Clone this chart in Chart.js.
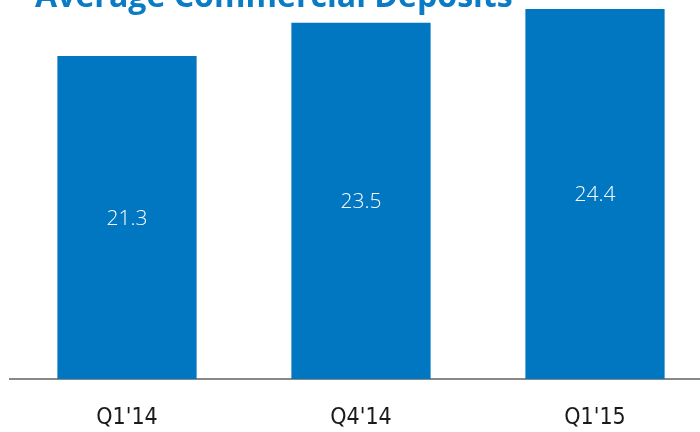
<!DOCTYPE html>
<html><head><meta charset="utf-8">
<script src="https://cdn.jsdelivr.net/npm/chart.js@4"></script>
<style>
html,body{margin:0;padding:0;overflow:hidden;background:#fff;width:700px;height:432px}
#wrap{position:absolute;left:0;top:0;width:712px;height:432px}
</style></head><body>
<div id="wrap"><canvas id="c"></canvas></div>
<script>
const titleText = "Average Commercial Deposits";
const categories = ["Q1'14", "Q4'14", "Q1'15"];
const values = [21.3, 23.5, 24.4];
const valueLabels = ["21.3", "23.5", "24.4"];

const blue = '#0077c0';

const titlePlugin = {
  id: 'titleDraw',
  afterDraw(chart) {
    const ctx = chart.ctx;
    ctx.save();
    let size = 30;
    ctx.font = `bold ${size}px "Open Sans", sans-serif`;
    const w = ctx.measureText(titleText).width;
    size = size * 478 / w;
    ctx.font = `bold ${size}px "Open Sans", sans-serif`;
    ctx.fillStyle = '#0a7cc6';
    ctx.textBaseline = 'alphabetic';
    ctx.textAlign = 'left';
    ctx.fillText(titleText, 35, 7);
    ctx.restore();
  }
};

const valuePlugin = {
  id: 'valueLabels',
  afterDatasetsDraw(chart) {
    const ctx = chart.ctx;
    const meta = chart.getDatasetMeta(0);
    ctx.save();
    ctx.font = '300 21px "Open Sans", sans-serif';
    ctx.fillStyle = '#ffffff';
    ctx.textAlign = 'center';
    ctx.textBaseline = 'middle';
    meta.data.forEach((bar, i) => {
      const y = (bar.y + bar.base) / 2 + 1;
      ctx.fillText(valueLabels[i], bar.x, y);
    });
    ctx.restore();
  }
};

new Chart(document.getElementById('c'), {
  type: 'bar',
  data: {
    labels: categories,
    datasets: [{
      data: values,
      backgroundColor: blue,
      borderWidth: 0,
      categoryPercentage: 1,
      barPercentage: 0.595
    }]
  },
  options: {
    responsive: true,
    maintainAspectRatio: false,
    animation: false,
    devicePixelRatio: 1,
    layout: { padding: { left: 10, right: 0, top: 0, bottom: 0 } },
    plugins: { legend: { display: false }, tooltip: { enabled: false }, title: { display: false } },
    scales: {
      y: { display: false, min: 0, max: 25 },
      x: {
        grid: { display: false, drawTicks: false },
        border: { display: true, color: '#888888', width: 2 },
        ticks: {
          color: '#1a1a1a',
          padding: 25,
          font: { family: '"DejaVu Sans Condensed", "Liberation Sans Narrow", "Open Sans", sans-serif', size: 23 }
        },
        afterFit(scale) { scale.height = 53; }
      }
    }
  },
  plugins: [titlePlugin, valuePlugin]
});
</script>
</body></html>
